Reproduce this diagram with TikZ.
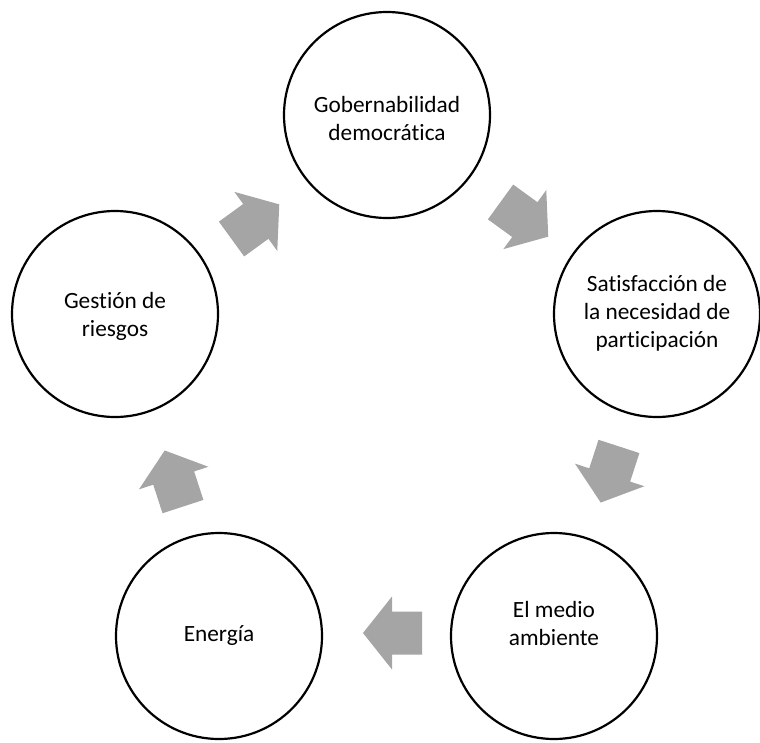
\documentclass[tikz,border=0pt]{standalone}
\usepackage{fontspec}
\setmainfont{Carlito}[Ligatures=NoCommon]
\newcommand{\cytext}[2]{\raisebox{#1}[\height][\depth]{\begin{tabular}{@{}c@{}}#2\end{tabular}}}
\begin{document}
\begin{tikzpicture}[x=1pt,y=1pt,
  cyc/.style={circle,draw=black,line width=2.2pt,minimum size=206pt,inner sep=0pt,font=\fontsize{23.3}{28}\selectfont},
  garrow/.style={fill=arrowgray,draw=none}]
\definecolor{arrowgray}{HTML}{A5A5A5}
\useasboundingbox (0,0) rectangle (760,-742);
\node[cyc] (a) at (387,-115) {\cytext{-6pt}{Gobernabilidad\\democrática}};
\node[cyc] (b) at (657,-314) {\cytext{0pt}{Satisfacción de\\la necesidad de\\participación}};
\node[cyc] (c) at (554,-636) {\cytext{10pt}{El medio\\ambiente}};
\node[cyc] (d) at (219,-636) {\cytext{0pt}{Energía}};
\node[cyc] (e) at (115,-314) {\cytext{-3pt}{Gestión de\\riesgos}};
\foreach \px/\py/\dir/\nm in {524/219/-36/ab, 610/474/-108/bc, 393/633/-180/cd, 174/479/108/de, 255/222/36/ea}{
  \coordinate (\nm) at (\px,-\py);
  \fill[garrow,shift={(\nm)},rotate=\dir]
    (-29,-21.5) -- (1,-21.5) -- (1,-36.5) -- (30,0) -- (1,36.5) -- (1,21.5) -- (-29,21.5) -- cycle;
}
\end{tikzpicture}
\end{document}
